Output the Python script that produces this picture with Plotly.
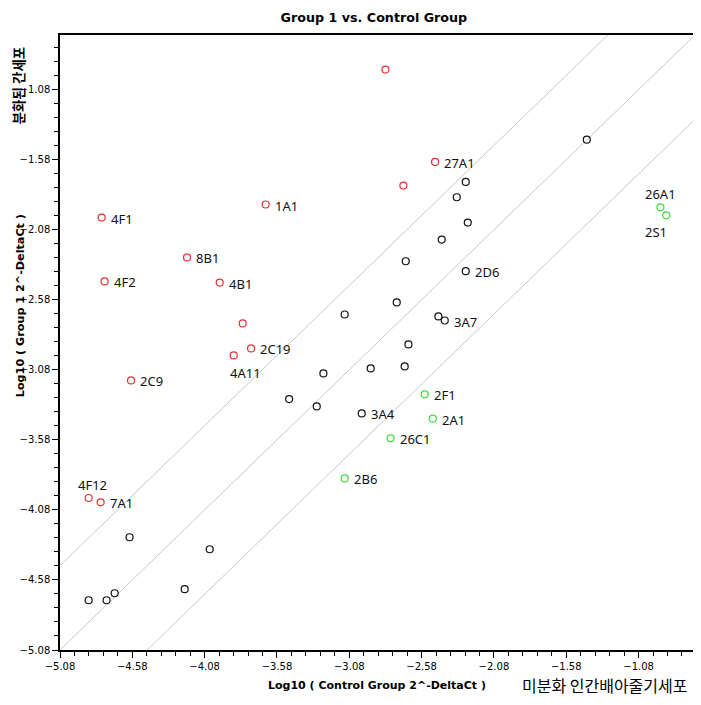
import plotly.graph_objects as go

# ---- data ----
red_x = [-2.830, -2.487, -2.706, -3.658, -4.792, -4.202, -4.772, -3.976, -3.817, -3.759, -3.879, -4.589, -4.882, -4.799]
red_y = [-0.937, -1.596, -1.765, -1.900, -1.993, -2.278, -2.449, -2.457, -2.749, -2.927, -2.977, -3.156, -3.995, -4.026]
red_lab = ["", "27A1", "", "1A1", "4F1", "8B1", "4F2", "4B1", "", "2C19", "4A11", "2C9", "4F12", "7A1"]

green_x = [-0.929, -0.889, -2.559, -2.503, -2.794, -3.112]
green_y = [-1.920, -1.977, -3.255, -3.429, -3.569, -3.855]
green_lab = ["26A1", "2S1", "2F1", "2A1", "26C1", "2B6"]

black_x = [-1.438, -2.275, -2.337, -2.261, -2.441, -2.690, -2.275, -2.752, -2.464, -2.420, -2.671, -3.112,
           -3.259, -3.496, -3.305, -2.932, -2.697, -2.994, -4.599, -4.045, -4.218, -4.702, -4.882, -4.758]
black_y = [-1.437, -1.739, -1.848, -2.029, -2.150, -2.305, -2.376, -2.599, -2.699, -2.728, -2.899, -2.685,
           -3.106, -3.289, -3.341, -3.070, -3.056, -3.391, -4.275, -4.361, -4.646, -4.675, -4.725, -4.725]
black_lab = ["", "", "", "", "", "", "2D6", "", "", "3A7", "", "", "", "", "", "", "", "3A4", "", "", "", "", "", ""]

line_offsets = [0.602, 0.0, -0.602]
axis_min, axis_max = -5.08, -0.69

# label placements that differ from default (right of the point)
label_shift = {"4A11": (12, -18), "26A1": (0, 13), "2S1": (-10, -17), "4F12": (4, 13)}

fig = go.Figure()

for off in line_offsets:
    fig.add_trace(go.Scatter(
        x=[axis_min - 1, axis_max + 1], y=[axis_min - 1 + off, axis_max + 1 + off],
        mode="lines", line=dict(color="#c8c8c8", width=1), hoverinfo="skip", showlegend=False))

for xs, ys, col in [(black_x, black_y, "#111111"), (red_x, red_y, "#e03434"), (green_x, green_y, "#3fdc3f")]:
    fig.add_trace(go.Scatter(
        x=xs, y=ys, mode="markers",
        marker=dict(symbol="circle-open", size=7, color=col, line=dict(width=1.2, color=col)),
        showlegend=False))

annotations = []
for xs, ys, labs in [(red_x, red_y, red_lab), (green_x, green_y, green_lab), (black_x, black_y, black_lab)]:
    for x, y, t in zip(xs, ys, labs):
        if not t:
            continue
        if t in label_shift:
            dx, dy = label_shift[t]
            annotations.append(dict(x=x, y=y, text=t, showarrow=False, xanchor="center", yanchor="middle",
                                    xshift=dx, yshift=dy, font=dict(family="Noto Sans", size=13, color="#111")))
        else:
            annotations.append(dict(x=x, y=y, text=t, showarrow=False, xanchor="left", yanchor="middle",
                                    xshift=7, yshift=-1, font=dict(family="Noto Sans", size=13, color="#111")))

annotations += [
    dict(text="<b>Log10 ( Group 1 2^-DeltaCt )</b>", xref="paper", yref="paper", x=-0.062, y=0.56,
         xanchor="center", yanchor="middle", textangle=-90, showarrow=False,
         font=dict(family="DejaVu Sans", size=11.2, color="#000")),
    dict(text="<b>분화된 간세포</b>", xref="paper", yref="paper", x=-0.067, y=0.984,
         xanchor="center", yanchor="top", textangle=-90, showarrow=False, borderpad=0,
         font=dict(family="Noto Sans CJK KR", size=13.5, color="#000")),
    dict(text="<b>Log10 ( Control Group 2^-DeltaCt )</b>", xref="paper", yref="paper", x=0.499, y=-0.057,
         xanchor="center", yanchor="middle", showarrow=False,
         font=dict(family="DejaVu Sans", size=11, color="#000")),
    dict(text="미분화 인간배아줄기세포", xref="paper", yref="paper", x=0.992, y=-0.057,
         xanchor="right", yanchor="middle", showarrow=False,
         font=dict(family="Noto Sans CJK KR", size=16, color="#000")),
]

axis_common = dict(
    range=[axis_min, axis_max], tick0=-5.08, dtick=0.5, tickformat=".2f",
    ticks="outside", ticklen=6, tickwidth=1, tickcolor="#000",
    minor=dict(tick0=-5.08, dtick=0.1, ticks="outside", ticklen=4, tickcolor="#000", showgrid=False),
    showline=True, linecolor="#000", linewidth=1.5, mirror=True,
    showgrid=False, zeroline=False,
    tickfont=dict(family="DejaVu Sans", size=10, color="#000"),
)

# page body has an 8px margin, so the figure is sized/offset to compensate
fig.update_layout(
    width=693, height=697,
    margin=dict(l=52, r=6, t=27, b=55, autoexpand=False),
    paper_bgcolor="white", plot_bgcolor="white",
    title=dict(text="<b>Group 1 vs. Control Group</b>", x=0.528, xanchor="center",
               y=1 - 10 / 697, yanchor="middle",
               font=dict(family="DejaVu Sans", size=12.7, color="#000")),
    xaxis=axis_common, yaxis=axis_common,
    annotations=annotations,
    showlegend=False,
)

fig.write_html("out.html")
